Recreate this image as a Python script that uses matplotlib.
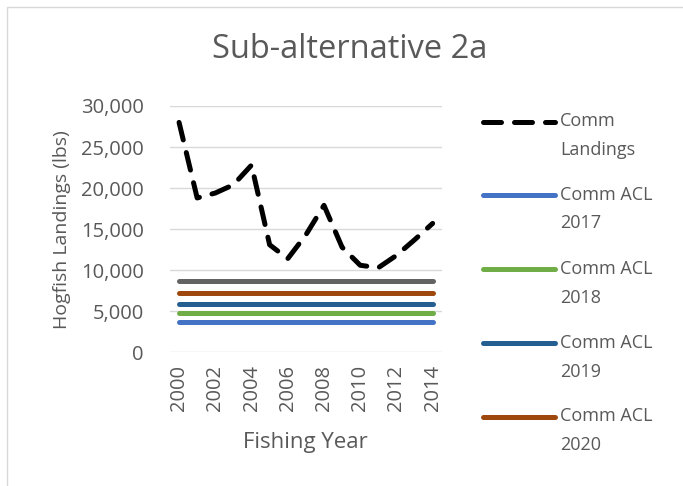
import matplotlib
matplotlib.use("Agg")
import matplotlib.pyplot as plt
from matplotlib.lines import Line2D
from matplotlib.patches import Rectangle

plt.rcParams['font.family'] = ['Open Sans', 'DejaVu Sans']

# --- data ---
years = list(range(2000, 2015))
comm_landings = [28000, 18800, 19400, 20400, 22800, 13100, 11400, 14300,
                 17900, 12800, 10600, 10300, 11800, 13700, 15700]
acl_labels = ['Comm ACL\n2017', 'Comm ACL\n2018', 'Comm ACL\n2019',
              'Comm ACL\n2020', 'Comm ACL\n2021']
acl_values = [3660, 4760, 5930, 7270, 8700]
acl_colors = ['#4472C4', '#70AD47', '#255E91', '#9E480E', '#636363']
year_ticks = list(range(2000, 2015, 2))
y_ticks = [0, 5000, 10000, 15000, 20000, 25000, 30000]

TEXT = '#595959'
GRID = '#D9D9D9'
W, H = 683, 486

fig = plt.figure(figsize=(W / 100, H / 100), dpi=100)
ax = fig.add_axes([170 / W, 1 - 352.3 / H, (441.7 - 170) / W, (352.3 - 106) / H])

# landings (dashed black)
land_line, = ax.plot(years, comm_landings, color='black', lw=3.6,
                     dashes=(3.6, 2.6), dash_capstyle='round',
                     solid_capstyle='round', zorder=3)

# flat ACL lines
acl_lines = []
for val, col in zip(acl_values, acl_colors):
    ln, = ax.plot(years, [val] * len(years), color=col, lw=3.6,
                  solid_capstyle='round', zorder=3)
    acl_lines.append(ln)

ax.set_xlim(1999.5, 2014.5)
ax.set_ylim(0, 30000)
ax.set_yticks(y_ticks)
ax.set_yticklabels([f'{v:,}' for v in y_ticks])
ax.set_xticks(year_ticks)
ax.set_xticklabels([str(y) for y in year_ticks], rotation=90)
ax.tick_params(axis='both', length=0, labelsize=14.5, labelcolor=TEXT)
ax.tick_params(axis='y', pad=19)
ax.tick_params(axis='x', pad=9)
ax.grid(axis='y', color=GRID, lw=1.0)
ax.set_axisbelow(True)
for s in ax.spines.values():
    s.set_visible(False)

ax.set_ylabel('Hogfish Landings (lbs)', fontsize=14, color=TEXT, labelpad=7)
ax.set_xlabel('Fishing Year', fontsize=16, color=TEXT, labelpad=15)

fig.text(350 / W, 1 - 50 / H, 'Sub-alternative 2a', fontsize=23.5,
         color=TEXT, ha='center', va='center')

# manual legend: handle sits on the first line of each label
leg_items = [(land_line, 'Comm\nLandings')] + list(zip(acl_lines[:4], acl_labels[:4]))
leg_y = [121.7, 195, 269.3, 343.3, 416.7]
for (ln, lab), yy in zip(leg_items, leg_y):
    h = Line2D([483.3 / W, 555 / W], [1 - yy / H, 1 - yy / H],
               transform=fig.transFigure, color=ln.get_color(),
               lw=ln.get_linewidth(), solid_capstyle='round',
               dash_capstyle='round')
    if ln is land_line:
        h.set_dashes((3.6, 2.6))
    fig.add_artist(h)
    fig.text(560 / W, 1 - (yy + 14) / H, lab, fontsize=13, color=TEXT,
             ha='left', va='center', linespacing=1.75)

# light chart border (cut off on the right and bottom)
fig.add_artist(Rectangle((6.5 / W, -0.1), 1.2, 1.1 - 6.7 / H,
                         transform=fig.transFigure, fill=False,
                         edgecolor=GRID, lw=1.0))

fig.savefig('out.png', dpi=100)
